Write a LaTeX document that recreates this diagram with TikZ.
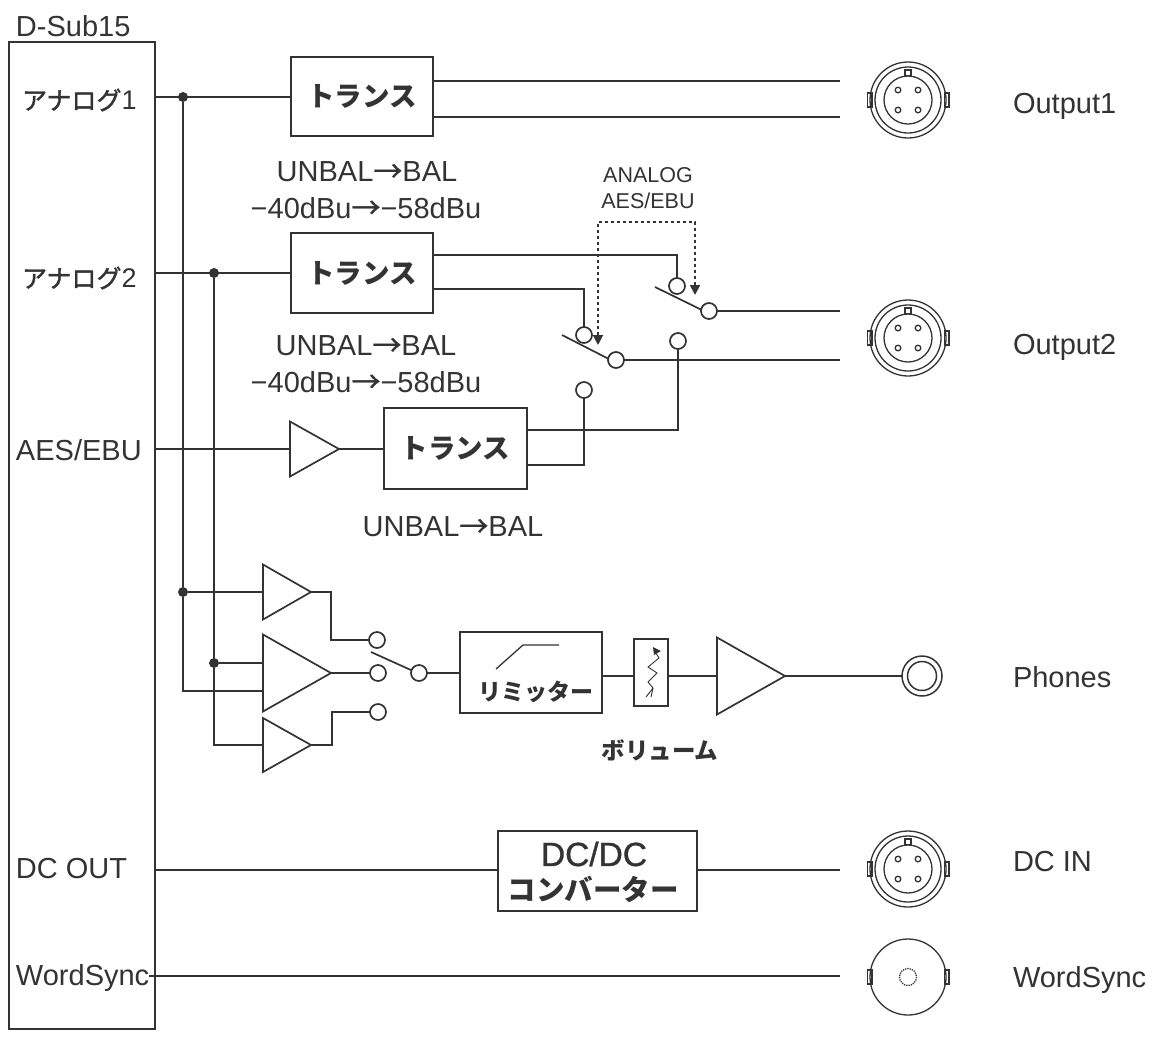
\documentclass[tikz,border=0pt]{standalone}
\usepackage{fontspec}
\setmainfont{Liberation Sans}
\newfontfamily\jpfont[FakeBold=1.6]{Noto Sans CJK JP}
\newfontfamily\jphead{Noto Sans CJK JP}
\newfontfamily\arrfont[FakeBold=1]{Noto Sans CJK JP}
\newfontfamily\dcfont[FakeBold=1]{Liberation Sans}
\newcommand{\toarr}{{\arrfont →}}
\usetikzlibrary{arrows.meta,positioning,shapes.geometric}

\definecolor{ink}{gray}{0.2}

\tikzset{
  lug/.pic={
    \draw[thinwire] (-40.5,-7) rectangle (-36,7);
    \draw[thinwire] (36.5,-7) rectangle (41,7);
  },
  xlr/.pic={
    \foreach \r in {38,33,24} \draw[thinwire] (0,0) circle[radius=\r];
    \draw[thinwire,fill=white] (-3,-30) rectangle (3,-24.5);
    \foreach \px in {-10,10} \foreach \py in {-10,10}
      \draw[thinwire] (\px,\py) circle[radius=2.8];
    \pic {lug};
  },
  bnc/.pic={
    \draw[thinwire] (0,0) circle[radius=38];
    \draw[thinwire,densely dotted] (0,0) circle[radius=8.5];
    \pic {lug};
  }
}

\begin{document}
\begin{tikzpicture}[
  x=1pt, y=-1pt,
  every node/.style={outer sep=0},
  wire/.style={draw=ink, line width=1.7pt, line join=miter},
  thinwire/.style={draw=ink, line width=1.3pt},
  blockbox/.style={draw=ink, line width=2pt, fill=white, inner sep=0, anchor=north west,
    font=\jphead\bfseries\fontsize{27.5}{34}\selectfont, text=ink},
  amp/.style={isosceles triangle, isosceles triangle stretches, shape border rotate=0,
    draw=ink, line width=1.7pt, inner sep=0, anchor=lower side},
  contact/.style={circle, draw=ink, line width=1.7pt, minimum size=16pt, inner sep=0},
  jdot/.style={circle, fill=ink, minimum size=10pt, inner sep=0},
  txt/.style={inner sep=0, text=ink, font=\fontsize{29}{32}\selectfont},
  txtl/.style={txt, anchor=west},
  jptxt/.style={inner sep=0, text=ink, anchor=west, font=\jpfont\fontsize{25}{28}\selectfont},
  ctl/.style={draw=ink, line width=1.8pt, dash pattern=on 3pt off 3pt,
    {Triangle[length=10pt,width=10pt]}-{Triangle[length=10pt,width=10pt]}}
]
  \useasboundingbox (0,0) rectangle (1153,1037);

  % D-Sub side
  \node[draw=ink, line width=2.6pt, inner sep=0, anchor=north west,
    minimum width=146pt, minimum height=987pt] (dsub) at (9,42) {};
  \node[txtl] (dsublabel) at (16,26) {D-Sub15};
  \node[jptxt] (lana1) at (22,100) {アナログ{\rmfamily\fontsize{27}{28}\selectfont 1}};
  \node[jptxt] (lana2) at (22,278) {アナログ{\rmfamily\fontsize{27}{28}\selectfont 2}};
  \node[txtl] (laes) at (16,450) {AES/EBU};
  \node[txtl] (ldc) at (16,868) {DC OUT};
  \node[txtl] (lws) at (16,978) {WordSync};

  % blocks
  \node[blockbox, minimum width=142pt, minimum height=79pt] (trans1) at (291,57) {トランス};
  \node[blockbox, minimum width=142pt, minimum height=80pt] (trans2) at (291,233) {トランス};
  \node[blockbox, minimum width=143pt, minimum height=81pt] (trans3) at (384,408) {トランス};
  \node[blockbox, minimum width=142pt, minimum height=81pt] (limit) at (460,632) {};
  \node[blockbox, minimum width=34pt, minimum height=67pt] (vol) at (634,639) {};
  \node[blockbox, minimum width=199pt, minimum height=80pt] (dcdc) at (498,831) {};
  \node[inner sep=0, text=ink, font=\dcfont\fontsize{33.5}{36}\selectfont] (dcdca) at (594,854) {DC/DC};
  \node[inner sep=0, text=ink, font=\jphead\bfseries\fontsize{28.5}{32}\selectfont] (dcdcb) at (593,889) {コンバーター};
  \node[inner sep=0, text=ink, font=\jphead\bfseries\fontsize{23}{28}\selectfont] (limitl) at (536,692) {リミッター};
  \draw[thinwire] (496,669) -- (523,645) -- (559,645);
  % volume symbol
  \draw[draw=ink, line width=0.9pt] (654,650) -- (659,658) -- (648,667) -- (657,673) -- (648,682) -- (653,688) -- (646,697);
  \draw[draw=ink, line width=0.9pt] (653,688) -- (651,697);
  \fill[ink] (653,647) -- (661,651) -- (654,655) -- cycle;

  % amplifiers
  \node[amp, minimum height=49pt, minimum width=55pt] (ampaes) at (290,449) {};
  \node[amp, minimum height=48pt, minimum width=55pt] (ampa) at (263,592) {};
  \node[amp, minimum height=68pt, minimum width=77pt] (ampb) at (263,673) {};
  \node[amp, minimum height=48pt, minimum width=54pt] (ampc) at (263,745) {};
  \node[amp, minimum height=68pt, minimum width=77pt] (amphp) at (717,676) {};

  % junctions
  \node[jdot] (j1a) at (183,97) {};
  \node[jdot] (j1b) at (183,592) {};
  \node[jdot] (j2a) at (214,273) {};
  \node[jdot] (j2b) at (214,663) {};

  % contacts
  \node[contact] (swa) at (677,286) {};
  \node[contact] (swap) at (709,311) {};
  \node[contact] (swb) at (584,335) {};
  \node[contact] (swbp) at (616,360) {};
  \node[contact] (aesa) at (678,341) {};
  \node[contact] (aesb) at (584,390) {};
  \node[contact] (hpa) at (377,640) {};
  \node[contact] (hpb) at (378,673) {};
  \node[contact] (hpc) at (378,712) {};
  \node[contact] (hpp) at (419,673) {};
  \coordinate (armas) at (655,287);
  \coordinate (armbs) at (562,335);
  \coordinate (armcs) at (371,652);

  % free ends
  \coordinate (o1a) at (840,81);
  \coordinate (o1b) at (840,117);
  \coordinate (o2a) at (840,311);
  \coordinate (o2b) at (840,360);
  \coordinate (odc) at (840,870);
  \coordinate (ows) at (840,976);

  % connectors
  \pic at (908,100) {xlr};
  \pic at (908,338) {xlr};
  \pic at (908,869) {xlr};
  \pic at (908,977) {bnc};
  \node[circle, draw=ink, line width=1.5pt, minimum size=40pt, inner sep=0] (jack) at (922,676) {};
  \node[circle, draw=ink, line width=1.5pt, minimum size=29pt, inner sep=0] (jacki) at (922,676) {};

  % right labels
  \node[txtl] (lo1) at (1013,106) {Output1};
  \node[txtl] (lo2) at (1013,347) {Output2};
  \node[txtl] (lhp) at (1013,677) {Phones};
  \node[txtl] (ldcin) at (1013,862) {DC IN};
  \node[txtl] (lwso) at (1013,980) {WordSync};

  % captions
  \node[txt] (cap1a) at (367,172) {UNBAL\toarr BAL};
  \node[txt] (cap1b) at (366,208) {−40dBu\toarr −58dBu};
  \node[txt] (cap2a) at (366,346) {UNBAL\toarr BAL};
  \node[txt] (cap2b) at (366,382) {−40dBu\toarr −58dBu};
  \node[txt] (cap3) at (453,527) {UNBAL\toarr BAL};
  \node[inner sep=0, text=ink, font=\fontsize{21.5}{24}\selectfont] (sela) at (648,175) {ANALOG};
  \node[inner sep=0, text=ink, font=\fontsize{21.5}{24}\selectfont] (selb) at (648,201) {AES/EBU};
  \node[inner sep=0, text=ink, font=\jphead\bfseries\fontsize{23.5}{28}\selectfont] (volname) at (660,750) {ボリューム};

  % wiring
  \draw[wire] (dsub.east |- j1a) -- (trans1.west |- j1a);
  \draw[wire] (j1a) -- (j1b) -- (183,691) -- (ampb.lower side |- 0,691);
  \draw[wire] (j1b) -- (ampa.lower side);
  \draw[wire] (trans1.east |- o1a) -- (o1a);
  \draw[wire] (trans1.east |- o1b) -- (o1b);
  \draw[wire] (dsub.east |- j2a) -- (trans2.west |- j2a);
  \draw[wire] (j2a) -- (j2b) -- (214,745) -- (ampc.lower side);
  \draw[wire] (j2b) -- (ampb.lower side |- j2b);
  \draw[wire] (trans2.east |- 0,255) -| (swa.north);
  \draw[wire] (trans2.east |- 0,289) -| (swb.north);
  \draw[wire] (armas) -- (swap.170);
  \draw[wire] (armbs) -- (swbp.170);
  \draw[wire] (swap.east) -- (o2a);
  \draw[wire] (swbp.east) -- (o2b);
  \draw[wire] (aesa.south) |- (trans3.east |- 0,430);
  \draw[wire] (aesb.south) |- (trans3.east |- 0,465);
  \draw[wire] (dsub.east |- ampaes.lower side) -- (ampaes.lower side);
  \draw[wire] (ampaes.apex) -- (trans3.west |- ampaes.apex);
  \draw[wire] (ampa.apex) -- (331,592) |- (hpa.west);
  \draw[wire] (ampb.apex) -- (hpb.west);
  \draw[wire] (ampc.apex) -- (332,745) |- (hpc.west);
  \draw[wire] (armcs) -- (hpp.160);
  \draw[wire] (hpp.east) -- (limit.west |- hpp);
  \draw[wire] (limit.east |- 0,676) -- (vol.west |- 0,676);
  \draw[wire] (vol.east |- 0,676) -- (amphp.lower side);
  \draw[wire] (amphp.apex) -- (jack.west);
  \draw[wire] (dsub.east |- odc) -- (dcdc.west |- odc);
  \draw[wire] (dcdc.east |- odc) -- (odc);
  \draw[wire] (lws.east |- ows) -- (ows);

  % selector control
  \coordinate (ctla) at (598,345);
  \coordinate (ctlb) at (695,295);
  \draw[ctl] (ctla) |- (ctlb |- 0,222) -- (ctlb);
\end{tikzpicture}
\end{document}
